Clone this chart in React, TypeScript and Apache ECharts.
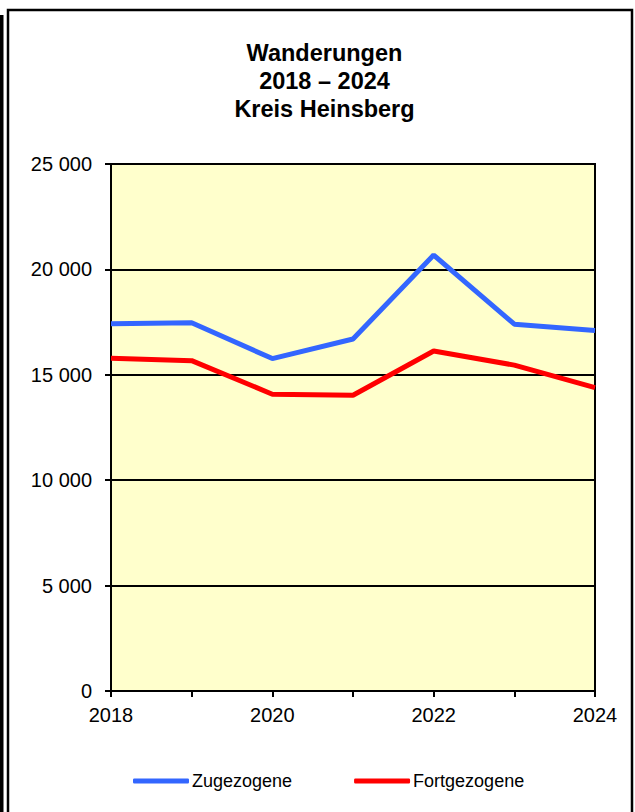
import React, { useEffect, useRef } from "react";
import * as echarts from "echarts";

const years = ["2018", "2019", "2020", "2021", "2022", "2023", "2024"];
const zugezogene = [17420, 17470, 15770, 16700, 20680, 17400, 17100];
const fortgezogene = [15790, 15670, 14080, 14030, 16130, 15460, 14390];
const titleLines = ["Wanderungen", "2018 – 2024", "Kreis Heinsberg"];
const seriesNames = ["Zugezogene", "Fortgezogene"];

const FONT = "'Liberation Sans', Arial, Helvetica, sans-serif";

export default function App() {
  const ref = useRef<HTMLDivElement>(null);
  useEffect(() => {
    document.body.style.margin = "0";
    const chart = echarts.init(ref.current!, null, { renderer: "svg" });
    chart.setOption({
      animation: false,
      backgroundColor: "#ffffff",
      textStyle: { fontFamily: FONT },
      grid: {
        left: 111,
        right: 40,
        top: 164,
        bottom: 121,
        show: true,
        backgroundColor: "#FFFFCC",
        borderColor: "#000000",
        borderWidth: 2,
        containLabel: false,
      },
      graphic: [
        {
          type: "rect",
          shape: { x: 8, y: 10, width: 624, height: 900 },
          style: { fill: "none", stroke: "#000000", lineWidth: 2.5 },
          silent: true,
        },
        {
          type: "rect",
          shape: { x: 0, y: 15, width: 3.5, height: 800 },
          style: { fill: "#000000" },
          silent: true,
        },
        {
          type: "text",
          x: 324.5,
          y: 81,
          style: {
            text: titleLines.join("\n"),
            fontFamily: FONT,
            fontSize: 23.5,
            fontWeight: "bold",
            lineHeight: 28,
            fill: "#000000",
            textAlign: "center",
            textVerticalAlign: "middle",
          },
        },
      ],
      legend: {
        left: 128,
        top: 767,
        itemGap: 62,
        itemWidth: 56,
        itemHeight: 5,
        icon: "roundRect",
        textStyle: { fontFamily: FONT, fontSize: 18, color: "#000000", padding: [0, 0, 0, -2] },
        data: seriesNames,
      },
      xAxis: {
        type: "category",
        data: years,
        boundaryGap: false,
        axisLine: { lineStyle: { color: "#000000", width: 2 } },
        axisTick: { show: true, length: 6, interval: 0, lineStyle: { color: "#000000", width: 2 } },
        axisLabel: {
          interval: 1,
          margin: 14,
          fontSize: 20,
          color: "#000000",
          fontFamily: FONT,
        },
        splitLine: { show: false },
      },
      yAxis: {
        type: "value",
        min: 0,
        max: 25000,
        interval: 5000,
        axisLine: { show: true, lineStyle: { color: "#000000", width: 2 } },
        axisTick: { show: true, length: 6, lineStyle: { color: "#000000", width: 2 } },
        axisLabel: {
          margin: 19,
          fontSize: 20,
          color: "#000000",
          fontFamily: FONT,
          formatter: (v: number) => String(v).replace(/\B(?=(\d{3})+(?!\d))/g, " "),
        },
        splitLine: { show: true, lineStyle: { color: "#000000", width: 2 } },
      },
      series: [
        {
          name: seriesNames[0],
          type: "line",
          data: zugezogene,
          symbol: "none",
          lineStyle: { color: "#3366FF", width: 5 },
          itemStyle: { color: "#3366FF" },
        },
        {
          name: seriesNames[1],
          type: "line",
          data: fortgezogene,
          symbol: "none",
          lineStyle: { color: "#FF0000", width: 5 },
          itemStyle: { color: "#FF0000" },
        },
      ],
    });
    return () => chart.dispose();
  }, []);
  return (
    <div
      ref={ref}
      style={{ position: "fixed", left: 0, top: 0, width: 635, height: 812 }}
    />
  );
}
